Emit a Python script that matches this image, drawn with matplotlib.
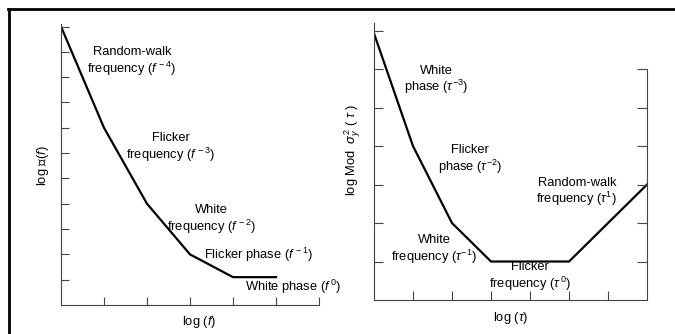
import matplotlib
matplotlib.use('Agg')
import matplotlib.pyplot as plt
from matplotlib.lines import Line2D

plt.rcParams['font.family'] = ['Liberation Sans', 'DejaVu Sans']
plt.rcParams['mathtext.fontset'] = 'custom'
plt.rcParams['mathtext.rm'] = 'Liberation Sans'
plt.rcParams['mathtext.it'] = 'Liberation Sans:italic'

# left panel: phase noise spectrum L(f)
f_x = [0, 1, 2, 3, 4, 5]
f_y = [11, 7, 4, 2, 1.1, 1.1]
f_labels = ['Random-walk\nfrequency ($f^{\\,-4}$)', 'Flicker\nfrequency ($f^{\\,-3}$)',
            'White\nfrequency ($f^{\\,-2}$)', 'Flicker phase ($f^{\\,-1}$)',
            'White phase ($f^{\\,0}$)']
f_lab_x = [1.65, 2.55, 3.5, 4.6, 5.4]
f_lab_y = [9.6, 6.2, 3.35, 1.98, 0.72]

# right panel: modified Allan variance
t_x = [0, 1, 2, 3, 5, 7]
t_y = [6.93, 4, 2, 1, 1, 3]
t_labels = ['White\nphase ($\\tau^{-3}$)', 'Flicker\nphase ($\\tau^{-2}$)',
            'Random-walk\nfrequency ($\\tau^{1}$)', 'White\nfrequency ($\\tau^{-1}$)',
            'Flicker\nfrequency ($\\tau^{\\,0}$)']
t_lab_x = [1.6, 2.46, 5.2, 1.55, 4.0]
t_lab_y = [5.7, 3.64, 2.8, 1.3, 0.6]

sc = '#444444'
fs = 9.3
ls = 1.1

fig = plt.figure(figsize=(6.75, 3.34), dpi=100)

# outer frame (top and left only)
fig.add_artist(Line2D([8/675, 674/675], [1-9/334, 1-9/334], color='black', lw=2))
fig.add_artist(Line2D([9/675, 9/675], [0, 1-9/334], color='black', lw=2))

ax1 = fig.add_axes([61/675, 29/334, 258/675, 281/334])
ax1.plot(f_x, f_y, color='black', lw=1.6, solid_joinstyle='miter')
ax1.set_xlim(0, 6)
ax1.set_ylim(0, 11.1)
ax1.set_xticks(range(1, 7))
ax1.set_yticks(range(1, 12))
ax1.tick_params(direction='in', length=5.5, width=0.8, color=sc,
                labelbottom=False, labelleft=False)
for s in ['top', 'right']:
    ax1.spines[s].set_visible(False)
for s in ['left', 'bottom']:
    ax1.spines[s].set_color(sc)
    ax1.spines[s].set_linewidth(0.8)
for lx, ly, lt in zip(f_lab_x, f_lab_y, f_labels):
    ax1.text(lx, ly, lt, ha='center', va='center', fontsize=fs, linespacing=ls)
ax1.text(3.2, -0.68, 'log ($f$)', ha='center', va='center', fontsize=fs)
ax1.text(-0.42, 5.5, 'log ℒ($f$)', ha='center', va='center',
         rotation=90, fontsize=fs)

ax2 = fig.add_axes([374/675, 34/334, 273/675, 277/334])
ax2.plot(t_x, t_y, color='black', lw=1.6, solid_joinstyle='miter')
ax2.set_xlim(0, 7)
ax2.set_ylim(0, 7.2)
ax2.set_xticks(range(1, 7))
ax2.set_yticks(range(1, 8))
ax2.tick_params(direction='in', length=6.5, width=0.8, color=sc,
                labelbottom=False, labelleft=False)
ax2.spines['top'].set_visible(False)
ax2.spines['right'].set_bounds(0, 6)
for s in ['left', 'bottom', 'right']:
    ax2.spines[s].set_color(sc)
    ax2.spines[s].set_linewidth(0.8)
axr = ax2.twinx()
axr.set_ylim(ax2.get_ylim())
axr.set_yticks(range(1, 7))
axr.tick_params(direction='in', length=7, width=0.8, color=sc, labelright=False)
for s in ['top', 'left', 'bottom', 'right']:
    axr.spines[s].set_visible(False)
for lx, ly, lt in zip(t_lab_x, t_lab_y, t_labels):
    ax2.text(lx, ly, lt, ha='center', va='center', fontsize=fs, linespacing=ls)
ax2.text(3.5, -0.47, 'log ($\\tau$)', ha='center', va='center', fontsize=fs)
ax2.text(-0.55, 3.9, 'log Mod  $\\sigma^2_y$ ( $\\tau$ )', ha='center', va='center',
         rotation=90, fontsize=fs)

fig.savefig('out.png', dpi=100)
